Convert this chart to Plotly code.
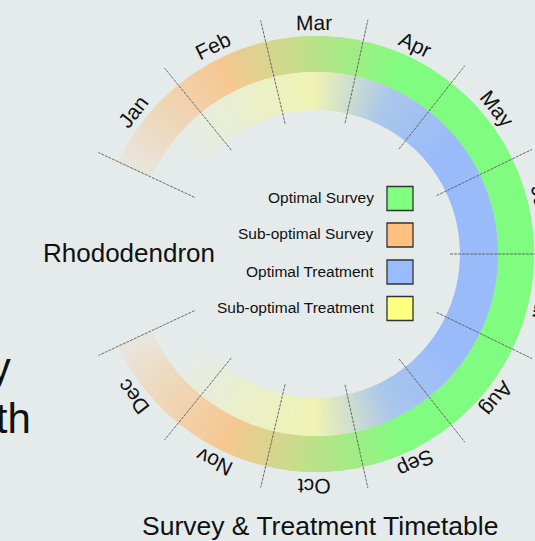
import numpy as np
import plotly.graph_objects as go

# ---------------- data ----------------
months = ["Jan", "Feb", "Mar", "Apr", "May", "Jun", "Jul", "Aug", "Sep", "Oct", "Nov", "Dec"]
# share of each month that falls in the optimal window (0 = sub-optimal, 1 = optimal)
survey_optimal = [0, 0, 0.5, 1, 1, 1, 1, 1, 1, 0.5, 0, 0]
# how strongly each month is recommended (0 = not at all)
survey_strength = [0.45, 1, 1, 1, 1, 1, 1, 1, 1, 1, 1, 0.45]
treatment_optimal = [0, 0, 0, 0.8, 1, 1, 1, 1, 0.8, 0, 0, 0]
treatment_strength = [0, 0.5, 1, 1, 1, 1, 1, 1, 1, 1, 0.55, 0]

legend_labels = ["Optimal Survey", "Sub-optimal Survey", "Optimal Treatment", "Sub-optimal Treatment"]
legend_colors = ["#80ff80", "#ffc080", "#99bbff", "#ffff80"]

plant_name = "Rhododendron"
chart_title = "Survey & Treatment Timetable"
side_lines = ["Survey", "by Month"]

# ---------------- styling / geometry ----------------
W, H = 535, 541
BG = "#e5ebea"
CX, CY = 316, 254            # pixel centre of the wheel
R_PX = 219                   # polar radius in px (radial unit = 1 px)
START_DEG = 295              # compass angle where January starts
SPAN_DEG = 310               # total angular span of the twelve months
MONTH_DEG = SPAN_DEG / 12

R_IN, R_MID, R_OUT = 144, 182, 218
FONT = "Liberation Sans, Arial, sans-serif"

RING_COL = {
    "survey_opt": (128, 252, 128),
    "survey_sub": (246, 199, 146),
    "treat_opt": (153, 187, 249),
    "treat_sub": (239, 243, 179),
}
BG_RGB = (229, 235, 234)


def px(x, y):
    return x / W, 1 - y / H


def polar_px(angle_deg, r):
    a = np.radians(angle_deg)
    return CX + r * np.sin(a), CY - r * np.cos(a)


def ring(opt, strength, c_opt, c_sub, edge_strength, n=24):
    ts = (np.arange(12 * n) + 0.5) / n
    at = [0] + [i + 0.5 for i in range(12)] + [12]
    ao = [opt[0]] + list(opt) + [opt[-1]]
    as_ = [edge_strength] + list(strength) + [edge_strength]
    o = np.interp(ts, at, ao)
    s = np.interp(ts, at, as_)
    c_opt = np.array(c_opt, float)
    c_sub = np.array(c_sub, float)
    bg = np.array(BG_RGB, float)
    cols, thetas = [], []
    for t, oo, ss in zip(ts, o, s):
        if ss < 0.02:
            continue
        c = c_sub * (1 - oo) + c_opt * oo
        c = bg * (1 - ss) + c * ss
        cols.append("rgb(%d,%d,%d)" % tuple(np.round(c).astype(int)))
        thetas.append(START_DEG + t * MONTH_DEG)
    return thetas, cols, MONTH_DEG / n * 1.6


fig = go.Figure()

th_o, col_o, w_o = ring(survey_optimal, survey_strength,
                        RING_COL["survey_opt"], RING_COL["survey_sub"], 0.12)
fig.add_trace(go.Barpolar(theta=th_o, r=[R_OUT - R_MID] * len(th_o), base=R_MID,
                          width=w_o, marker=dict(color=col_o, line=dict(width=0)),
                          hoverinfo="skip"))

th_i, col_i, w_i = ring(treatment_optimal, treatment_strength,
                        RING_COL["treat_opt"], RING_COL["treat_sub"], 0.0)
fig.add_trace(go.Barpolar(theta=th_i, r=[R_MID - R_IN] * len(th_i), base=R_IN,
                          width=w_i, marker=dict(color=col_i, line=dict(width=0)),
                          hoverinfo="skip"))

shapes = []
# month boundary dividers (extend beyond the wheel)
for k in range(len(months) + 1):
    a = START_DEG + k * MONTH_DEG
    x0, y0 = px(*polar_px(a, 134))
    x1, y1 = px(*polar_px(a, 240))
    shapes.append(dict(type="line", xref="paper", yref="paper", x0=x0, y0=y0, x1=x1, y1=y1,
                       line=dict(color="rgba(85,85,85,0.85)", width=1, dash="3px,1px"),
                       layer="above"))

annotations = []
R_LAB = 232
for i, m in enumerate(months):
    a = START_DEG + (i + 0.5) * MONTH_DEG
    x, y = polar_px(a, R_LAB)
    ang = ((a + 180) % 360) - 180
    xp, yp = px(x, y)
    annotations.append(dict(x=xp, y=yp, xref="paper", yref="paper", text=m,
                            showarrow=False, textangle=ang, xanchor="center", yanchor="middle",
                            font=dict(family=FONT, size=21, color="#111")))

# legend (text left, swatch right)
row_y = [198.5, 235, 272, 308.5]
for lab, col, yy in zip(legend_labels, legend_colors, row_y):
    xp, yp = px(376, yy - 1)
    annotations.append(dict(x=xp, y=yp, xref="paper", yref="paper", text=lab, showarrow=False,
                            xanchor="right", yanchor="middle",
                            font=dict(family=FONT, size=15.5, color="#111")))
    x0, y0 = px(387, yy - 12)
    x1, y1 = px(413, yy + 12)
    shapes.append(dict(type="rect", xref="paper", yref="paper", x0=x0, x1=x1, y0=y1, y1=y0,
                       fillcolor=col, line=dict(color="#333", width=1.3)))

xp, yp = px(128.5, 252.5)
annotations.append(dict(x=xp, y=yp, xref="paper", yref="paper", text=plant_name, showarrow=False,
                        xanchor="center", yanchor="middle",
                        font=dict(family=FONT, size=26, color="#111")))
xp, yp = px(319.5, 526)
annotations.append(dict(x=xp, y=yp, xref="paper", yref="paper", text=chart_title, showarrow=False,
                        xanchor="center", yanchor="middle",
                        font=dict(family=FONT, size=26.5, color="#111")))
for txt, xr, yc in zip(side_lines, [13, 33], [367, 418]):
    xp, yp = px(xr, yc)
    annotations.append(dict(x=xp, y=yp, xref="paper", yref="paper", text=txt, showarrow=False,
                            xanchor="right", yanchor="middle",
                            font=dict(family=FONT, size=42, color="#111")))

d0x, _ = px(CX - R_PX, 0)
_, d0y = px(0, CY + R_PX)
_, d1y = px(0, CY - R_PX)
fig.update_layout(
    width=W, height=H,
    margin=dict(l=0, r=0, t=0, b=0),
    paper_bgcolor=BG, plot_bgcolor=BG,
    showlegend=False,
    polar=dict(
        domain=dict(x=[d0x, 1.0], y=[d0y, d1y]),
        bgcolor="rgba(0,0,0,0)",
        barmode="overlay",
        radialaxis=dict(range=[0, R_PX], visible=False),
        angularaxis=dict(visible=False, direction="clockwise", rotation=90),
    ),
    annotations=annotations,
    shapes=shapes,
)

fig.write_html(
    "out.html",
    config={"displayModeBar": False},
    post_script="document.body.style.margin='0';document.body.style.overflow='hidden';"
                "document.body.style.background='" + BG + "';",
)
